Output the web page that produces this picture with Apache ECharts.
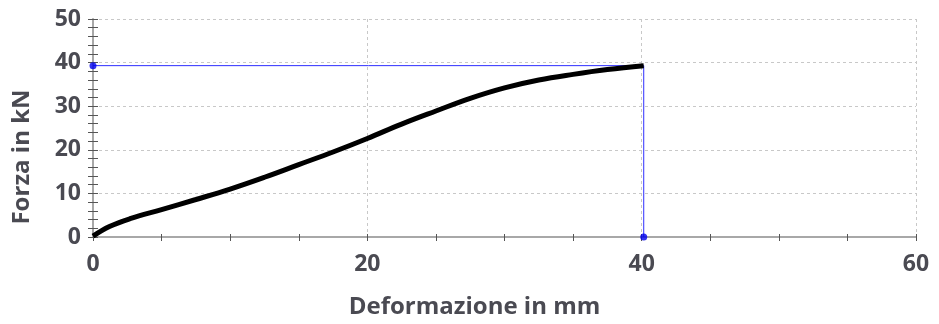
<!DOCTYPE html>
<html>
<head>
<meta charset="utf-8">
<script src="https://cdn.jsdelivr.net/npm/echarts@6/dist/echarts.min.js"></script>
<style>
  html, body { margin: 0; padding: 0; background: #fff; }
  #chart { width: 939px; height: 324px; }
</style>
</head>
<body>
<div id="chart"></div>
<script>
// curva forza / deformazione
const deformazione = [0, 1.2, 2.7, 5, 7.5, 10, 12.5, 15, 17.5, 20, 22.5, 25, 27.5, 30, 32.5, 35, 37.5, 40.15]
const forza = [0.2, 2.4, 4.2, 6.3, 8.6, 11.0, 13.7, 16.6, 19.5, 22.6, 25.9, 28.9, 31.8, 34.2, 36.0, 37.3, 38.4, 39.3]

// punto di rottura (linee blu)
const rotturaX = 40.15
const rotturaY = 39.3

const xTicks = [0, 20, 40, 60]
const yTicks = [0, 10, 20, 30, 40, 50]

const curva = deformazione.map((x, i) => [x, forza[i]])

const labelFont = {
  color: '#4a4a52',
  fontFamily: 'Open Sans',
  fontWeight: 'bold',
  fontSize: 23,
}

let myChart = echarts.init(document.getElementById('chart'))
myChart.setOption({
  animation: false,
  grid: {
    left: 93,
    right: 23,
    top: 19,
    bottom: 84,
  },
  xAxis: [
    {
      type: 'value',
      min: xTicks[0],
      max: xTicks[xTicks.length - 1],
      interval: 20,
      name: 'Deformazione in mm',
      nameLocation: 'middle',
      nameGap: 58,
      nameTextStyle: {
        ...labelFont,
        fontSize: 24,
        padding: [0, 60, 0, 0],
      },
      axisLine: { lineStyle: { color: '#a8a8a8', width: 2 } },
      axisTick: { show: true, length: 4, lineStyle: { color: '#555', width: 1 } },
      minorTick: { show: true, splitNumber: 4, length: 4, lineStyle: { color: '#555', width: 1 } },
      axisLabel: { ...labelFont, margin: 16 },
      splitLine: { show: true, lineStyle: { color: '#c8c8c8', type: [3, 3], width: 1 } },
    },
    {
      // tacche interne
      type: 'value',
      position: 'bottom',
      min: xTicks[0],
      max: xTicks[xTicks.length - 1],
      interval: 20,
      axisLine: { show: false },
      axisTick: { show: true, inside: true, length: 3, lineStyle: { color: '#555', width: 1 } },
      minorTick: { show: true, splitNumber: 4, length: 3, lineStyle: { color: '#555', width: 1 } },
      axisLabel: { show: false },
      splitLine: { show: false },
    },
  ],
  yAxis: [
    {
      type: 'value',
      min: yTicks[0],
      max: yTicks[yTicks.length - 1],
      interval: 10,
      name: 'Forza in kN',
      nameLocation: 'middle',
      nameGap: 59,
      nameRotate: 90,
      nameTextStyle: {
        ...labelFont,
        fontSize: 24,
        padding: [0, 58, 0, 0],
      },
      axisLine: { show: true, lineStyle: { color: '#a8a8a8', width: 2 } },
      axisTick: { show: true, length: 5, lineStyle: { color: '#555', width: 1 } },
      minorTick: { show: true, splitNumber: 5, length: 5, lineStyle: { color: '#555', width: 1 } },
      axisLabel: { ...labelFont, margin: 12 },
      splitLine: { show: true, lineStyle: { color: '#c8c8c8', type: [3, 3], width: 1 } },
    },
    {
      type: 'value',
      position: 'left',
      min: yTicks[0],
      max: yTicks[yTicks.length - 1],
      interval: 10,
      axisLine: { show: false },
      axisTick: { show: true, inside: true, length: 5, lineStyle: { color: '#555', width: 1 } },
      minorTick: { show: true, splitNumber: 5, length: 5, lineStyle: { color: '#555', width: 1 } },
      axisLabel: { show: false },
      splitLine: { show: false },
    },
  ],
  series: [
    {
      name: 'rottura',
      type: 'line',
      data: [[0, rotturaY], [rotturaX, rotturaY], [rotturaX, 0]],
      showSymbol: false,
      lineStyle: { color: '#2f2fff', width: 1 },
      z: 2,
    },
    {
      name: 'curva',
      type: 'line',
      data: curva,
      smooth: 0.4,
      showSymbol: false,
      lineStyle: { color: '#000', width: 5 },
      z: 3,
    },
    {
      name: 'punti',
      type: 'scatter',
      data: [[0, rotturaY], [rotturaX, 0]],
      symbolSize: 7,
      itemStyle: { color: '#0000ee' },
      z: 4,
    },
  ],
})
</script>
</body>
</html>
